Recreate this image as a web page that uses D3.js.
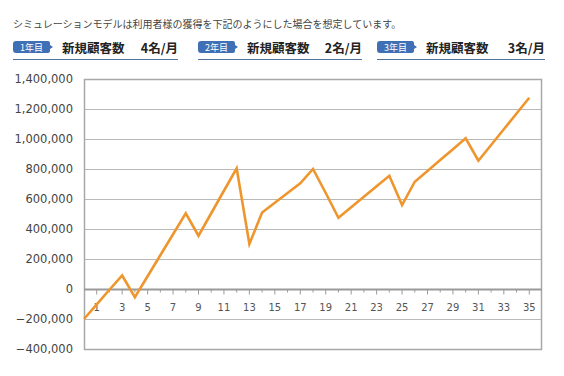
<!DOCTYPE html>
<html><head><meta charset="utf-8">
<script src="https://cdn.jsdelivr.net/npm/d3@7"></script>
<style>
html,body{margin:0;padding:0;background:#fff;}
svg{display:block;}
</style></head>
<body>
<svg id="chart" width="564" height="376"></svg>
<script>
const months = d3.range(0, 36);
const profit = [-200000,-103000,-5000,90000,-55000,85000,225000,365000,505000,355000,505000,655000,805000,300000,510000,575000,640000,705000,800000,640000,475000,545000,615000,685000,755000,560000,715000,787000,860000,932000,1005000,855000,960000,1065000,1170000,1275000];
const yTicks = [-400000,-200000,0,200000,400000,600000,800000,1000000,1200000,1400000];
const xLabels = d3.range(1, 36, 2);
const introText = "シミュレーションモデルは利用者様の獲得を下記のようにした場合を想定しています。";
const yearBadges = ["1年目","2年目","3年目"];
const yearTexts = ["新規顧客数","新規顧客数","新規顧客数"];
const yearRates = ["4名/月","2名/月","3名/月"];

const svg = d3.select("#chart");
const jp = "'Noto Sans CJK JP', 'Noto Sans', sans-serif";
const num = "'DejaVu Sans', sans-serif";

// header
svg.append("text").attr("x",13).attr("y",27.5).attr("font-family",jp).attr("font-size",10)
  .attr("fill","#444").text(introText);

const blockX = [13, 198, 377];
const blockEnd = [178, 362, 545];
yearBadges.forEach((b,i)=>{
  const x0 = blockX[i];
  const g = svg.append("g");
  g.append("path")
    .attr("d",`M${x0+3},41 H${x0+35} Q${x0+37},41 ${x0+37},43 V45 L${x0+40},47 L${x0+37},49 V51 Q${x0+37},53 ${x0+35},53 H${x0+3} Q${x0},53 ${x0},50 V44 Q${x0},41 ${x0+3},41 Z`)
    .attr("fill","#3f6fb4");
  g.append("text").attr("x",x0+18.5).attr("y",50.5).attr("text-anchor","middle")
    .attr("font-family",jp).attr("font-size",9).attr("fill","#fff").text(b);
  g.append("text").attr("x",x0+49).attr("y",53).attr("font-family",jp).attr("font-size",12.5)
    .attr("font-weight","bold").attr("fill","#222").text(yearTexts[i]);
  g.append("text").attr("x",blockEnd[i]).attr("y",53).attr("text-anchor","end").attr("font-family",jp).attr("font-size",12.5)
    .attr("font-weight","bold").attr("fill","#222").text(yearRates[i]);
  g.append("line").attr("x1",x0).attr("x2",blockEnd[i]).attr("y1",59.5).attr("y2",59.5)
    .attr("stroke","#55729a").attr("stroke-width",1.2);
});

// scales
const x = d3.scaleLinear().domain([0,36]).range([84,542]);
const y = d3.scaleLinear().domain([-400000,1400000]).range([349,79]);

// grid
svg.append("g").selectAll("line").data(yTicks).join("line")
  .attr("x1",84).attr("x2",542).attr("y1",d=>Math.round(y(d))+0.5).attr("y2",d=>Math.round(y(d))+0.5)
  .attr("stroke","#b9b9b9").attr("stroke-width",1.2);

// frame
svg.append("rect").attr("x",84.5).attr("y",Math.round(y(1400000))+0.5).attr("width",457)
  .attr("height",Math.round(y(-400000))-Math.round(y(1400000))).attr("fill","none")
  .attr("stroke","#a8a8a8").attr("stroke-width",1.5);

// y labels
const yAxis = d3.axisLeft(y).tickValues(yTicks).tickSize(0).tickPadding(11)
  .tickFormat(d=>d3.format(",")(d));
const ya = svg.append("g").attr("transform","translate(84,0)").call(yAxis);
ya.select(".domain").remove();
ya.selectAll("text").attr("font-family",num).attr("font-size",11.5).attr("fill","#444");

// x axis at zero
const y0 = Math.round(y(0))+0.5;
svg.append("line").attr("x1",84).attr("x2",542).attr("y1",y0).attr("y2",y0)
  .attr("stroke","#9a9a9a").attr("stroke-width",1.8);
svg.append("g").selectAll("line").data(d3.range(1,36)).join("line")
  .attr("x1",d=>x(d)).attr("x2",d=>x(d)).attr("y1",y0)
  .attr("y2",d=>y0+(d%2===1?5:3)).attr("stroke","#9a9a9a").attr("stroke-width",1);
svg.append("g").selectAll("text").data(xLabels).join("text")
  .attr("x",d=>x(d)).attr("y",y0+21).attr("text-anchor","middle")
  .attr("font-family",num).attr("font-size",10).attr("fill","#555").text(d=>d);

// line
const line = d3.line().x((d,i)=>x(months[i])).y(d=>y(d));
svg.append("path").datum(profit).attr("d",line).attr("fill","none")
  .attr("stroke","#ee962d").attr("stroke-width",2.6).attr("stroke-linejoin","miter");
</script>
</body></html>
